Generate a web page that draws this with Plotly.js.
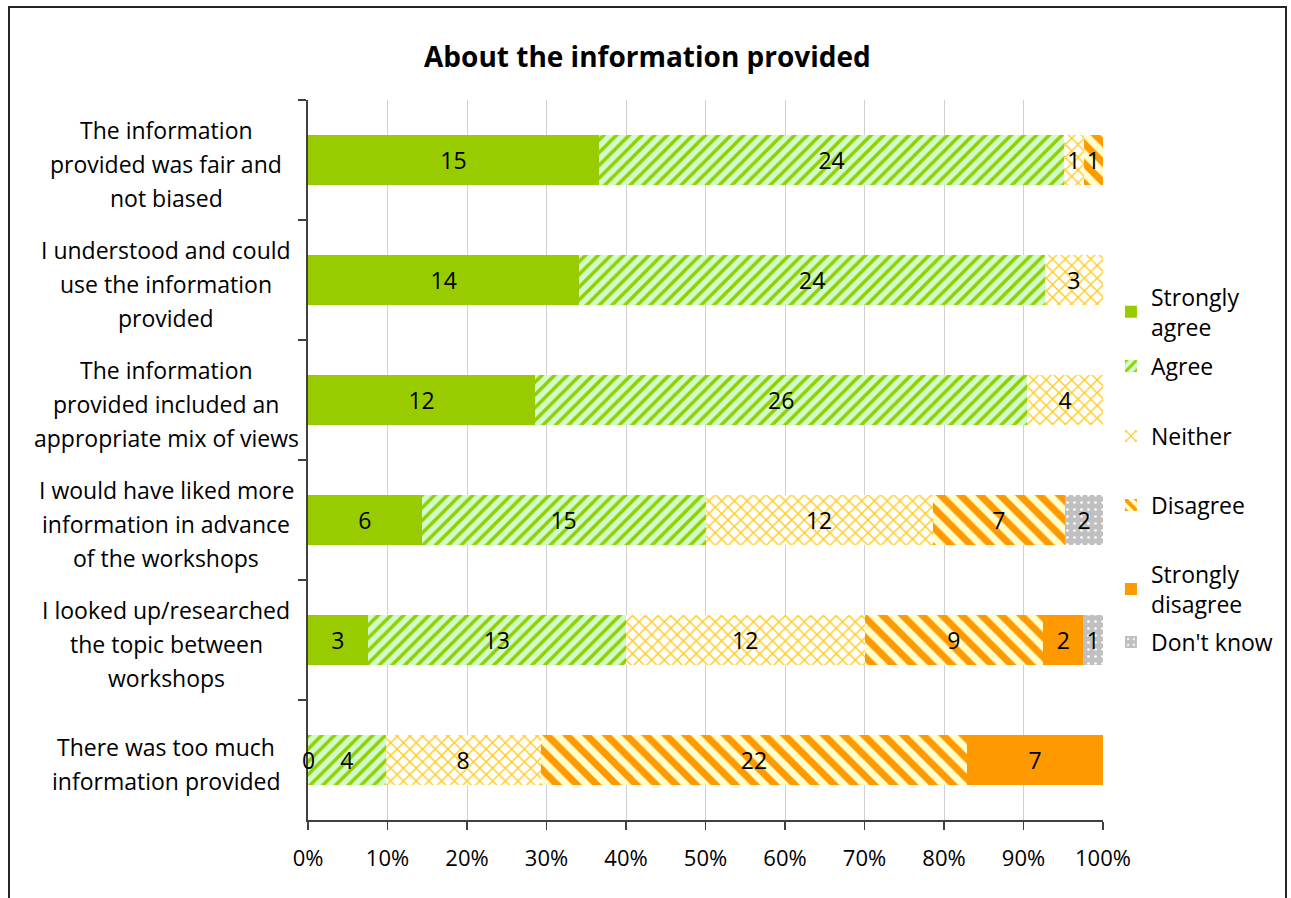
<!DOCTYPE html>
<html>
<head>
<meta charset="utf-8">
<script src="https://cdn.plot.ly/plotly-3.0.1.min.js"></script>
<style>
html,body{margin:0;padding:0;background:#fff;}
#chart{width:1291px;height:898px;}
</style>
</head>
<body>
<div id="chart"></div>
<script>
// ---- data ----
const categories = [
  "The information<br>provided was fair and<br>not biased",
  "I understood and could<br>use the information<br>provided",
  "The information<br>provided included an<br>appropriate mix of views",
  "I would have liked more<br>information in advance<br>of the workshops",
  "I looked up/researched<br>the topic between<br>workshops",
  "There was too much<br>information provided"
];
const seriesNames = ["Strongly<br>agree", "Agree", "Neither", "Disagree", "Strongly<br>disagree", "Don't know"];
const stronglyAgree    = [15, 14, 12, 6, 3, 0];
const agree            = [24, 24, 26, 15, 13, 4];
const neither          = [1, 3, 4, 12, 12, 8];
const disagree         = [1, null, null, 7, 9, 22];
const stronglyDisagree = [null, null, null, null, 2, 7];
const dontKnow         = [null, null, null, 2, 1, null];
const xTickLabels = ["0%","10%","20%","30%","40%","50%","60%","70%","80%","90%","100%"];
const chartTitle = "About the information provided";

// ---- styles ----
const FONT = '"Open Sans", "Noto Sans", sans-serif';
const allSeries = [stronglyAgree, agree, neither, disagree, stronglyDisagree, dontKnow];
const markers = [
  {color:'#99cc00'},
  {color:'#ccffcc', pattern:{shape:'/', fgcolor:'#99cc00', bgcolor:'#ccffcc', size:9, solidity:0.4}},
  {color:'#ffffff', pattern:{shape:'x', fgcolor:'#ffcc22', bgcolor:'#ffffff', size:9, solidity:0.3}},
  {color:'#ffffcc', pattern:{shape:'\\', fgcolor:'#ff9900', bgcolor:'#ffffcc', size:14, solidity:0.5}},
  {color:'#ff9900'},
  {color:'#c0c0c0', pattern:{shape:'.', fgcolor:'#ffffff', bgcolor:'#c0c0c0', size:7, solidity:0.12}}
];
const legendY = [0.7056, 0.6306, 0.5333, 0.4375, 0.3208, 0.2472];

const traces = allSeries.map((vals, k) => ({
  type:'bar',
  orientation:'h',
  name: seriesNames[k],
  y: categories,
  x: vals,
  text: vals.map(v => (v === null || v === 0) ? '' : String(v)),
  textposition:'inside',
  insidetextanchor:'middle',
  textfont:{family:FONT, size:23, color:'#000'},
  marker: Object.assign({line:{width:0}}, markers[k]),
  hoverinfo:'name+x',
  legend: k === 0 ? 'legend' : 'legend' + (k+1),
  showlegend:true
}));

const annotations = [];
// category labels, centered, one annotation per line
categories.forEach(cat => {
  const lines = cat.split('<br>');
  const n = lines.length;
  lines.forEach((ln, j) => {
    annotations.push({
      xref:'paper', yref:'y', x:-0.1786, y:cat, xanchor:'center', yanchor:'middle',
      text: ln, showarrow:false, font:{family:FONT, size:23, color:'#000'},
      yshift: ((n-1)/2 - j)*34 - 4
    });
  });
});
// zero value labels (drawn at their stacked position)
categories.forEach((cat, i) => {
  const total = allSeries.reduce((s, arr) => s + (arr[i] || 0), 0);
  let cum = 0;
  allSeries.forEach(arr => {
    const v = arr[i];
    if (v === 0) {
      annotations.push({
        xref:'x', yref:'y', x: cum/total, y: cat, xanchor:'center', yanchor:'middle',
        text: String(v), showarrow:false, font:{family:FONT, size:23, color:'#000'}
      });
    }
    cum += (v || 0);
  });
});

const layout = {
  width:1291, height:898,
  margin:{l:308, r:188, t:100, b:78},
  paper_bgcolor:'#ffffff', plot_bgcolor:'#ffffff',
  font:{family:FONT, size:23, color:'#000'},
  title:{text:'<b>'+chartTitle+'</b>', font:{family:FONT, size:28, color:'#000'},
         xref:'container', x:0.5015, xanchor:'center', yref:'container', y:0.9365, yanchor:'middle'},
  barmode:'stack', barnorm:'fraction', bargap:0.583,
  uniformtext:{mode:'show', minsize:23},
  xaxis:{range:[0,1], tickvals:xTickLabels.map((t,i)=>i/10), ticktext:xTickLabels,
         showgrid:true, gridcolor:'#d0d0d0', gridwidth:1, zeroline:false,
         showline:true, linecolor:'#404040', linewidth:2, ticks:'outside', ticklen:8, tickcolor:'#404040', tickwidth:1.5,
         ticklabelstandoff:10,
         tickfont:{family:FONT, size:22, color:'#000'}, fixedrange:true},
  yaxis:{type:'category', autorange:'reversed', showticklabels:false, showgrid:false, zeroline:false,
         showline:true, linecolor:'#404040', linewidth:2, ticks:'outside', ticklen:8, tickcolor:'#404040', tickwidth:1.5,
         tickson:'boundaries', fixedrange:true},
  annotations: annotations,
  shapes:[{type:'rect', xref:'paper', yref:'paper', x0:-0.3761, x1:1.2302, y0:-0.2, y1:1.1292,
           line:{color:'#262626', width:2}, fillcolor:'rgba(0,0,0,0)', layer:'above'}]
};
legendY.forEach((yy, k) => {
  const key = k === 0 ? 'legend' : 'legend' + (k+1);
  layout[key] = {x:1.01, xanchor:'left', y:yy, yanchor:'middle', bgcolor:'rgba(0,0,0,0)',
                 font:{family:FONT, size:23, color:'#000'}, itemwidth:30, tracegroupgap:0};
});

Plotly.newPlot('chart', traces, layout, {displayModeBar:false, staticPlot:true});
</script>
</body>
</html>
